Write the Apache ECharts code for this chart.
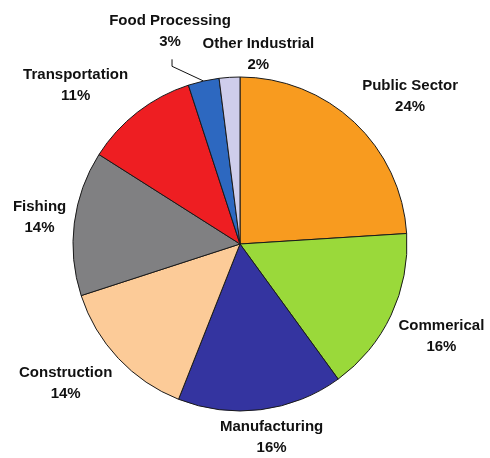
<!DOCTYPE html>
<html><head><meta charset="utf-8">
<script src="https://cdn.jsdelivr.net/npm/echarts@6/dist/echarts.min.js"></script>
<style>html,body{margin:0;padding:0;background:#fff}#c{width:490px;height:458px}</style>
</head><body><div id="c"></div>
<script>
// ---- data ----
const categories = ['Public Sector','Commerical','Manufacturing','Construction','Fishing','Transportation','Food Processing','Other Industrial'];
const shares = [24,16,16,14,14,11,3,2];
// ---- styles ----
const colors = ['#F89B1F','#9AD93A','#3434A0','#FCCB98','#808082','#EE1E22','#2D68C0','#CFCDEB'];
const labelNudge = [[16,16],[-2,-3],[6,-9],[-10,-15],[4,-1],[-26,20],[-24,-7],[31,11]];
const leaderItems = [6];

const CX = 240, CY = 244, R = 167;
const total = shares.reduce((a,b)=>a+b,0);
const mids = []; let acc = 0;
shares.forEach(v => { mids.push((acc + v/2) / total * 2 * Math.PI); acc += v; });

const chart = echarts.init(document.getElementById('c'), null, {renderer:'canvas'});
chart.setOption({
  backgroundColor: '#ffffff',
  animation: false,
  series: [{
    type: 'pie',
    center: [CX, CY],
    radius: R,
    startAngle: 90,
    clockwise: true,
    avoidLabelOverlap: false,
    itemStyle: { borderColor: '#1a1a1a', borderWidth: 1 },
    label: {
      show: true,
      position: 'outside',
      formatter: '{b}\n{c}%',
      fontFamily: 'Liberation Sans, Arial, sans-serif',
      fontWeight: 'bold',
      fontSize: 15,
      lineHeight: 21,
      color: '#111',
      align: 'center'
    },
    labelLine: { show: false, length: 10, length2: 0, lineStyle: { color: '#111', width: 1 } },
    emphasis: { disabled: true },
    labelLayout: function (p) {
      const i = p.dataIndex;
      const a = mids[i];
      const s = Math.sin(a), c = -Math.cos(a);
      const w = p.labelRect.width, h = p.labelRect.height;
      const d = R + 10 + Math.abs(s) * w / 2 + Math.abs(c) * h / 2;
      const x = CX + s * d + labelNudge[i][0];
      const y = CY + c * d + labelNudge[i][1];
      const res = { x: x, y: y, align: 'center', verticalAlign: 'middle' };
      if (leaderItems.indexOf(i) >= 0) {
        res.labelLinePoints = [[CX + s * R, CY + c * R], [x + 2, y + h / 2 + 14], [x + 2, y + h / 2 + 7]];
      }
      return res;
    },
    data: categories.map((n, i) => ({
      name: n, value: shares[i],
      itemStyle: { color: colors[i] },
      labelLine: { show: leaderItems.indexOf(i) >= 0 }
    }))
  }]
});
</script></body></html>
